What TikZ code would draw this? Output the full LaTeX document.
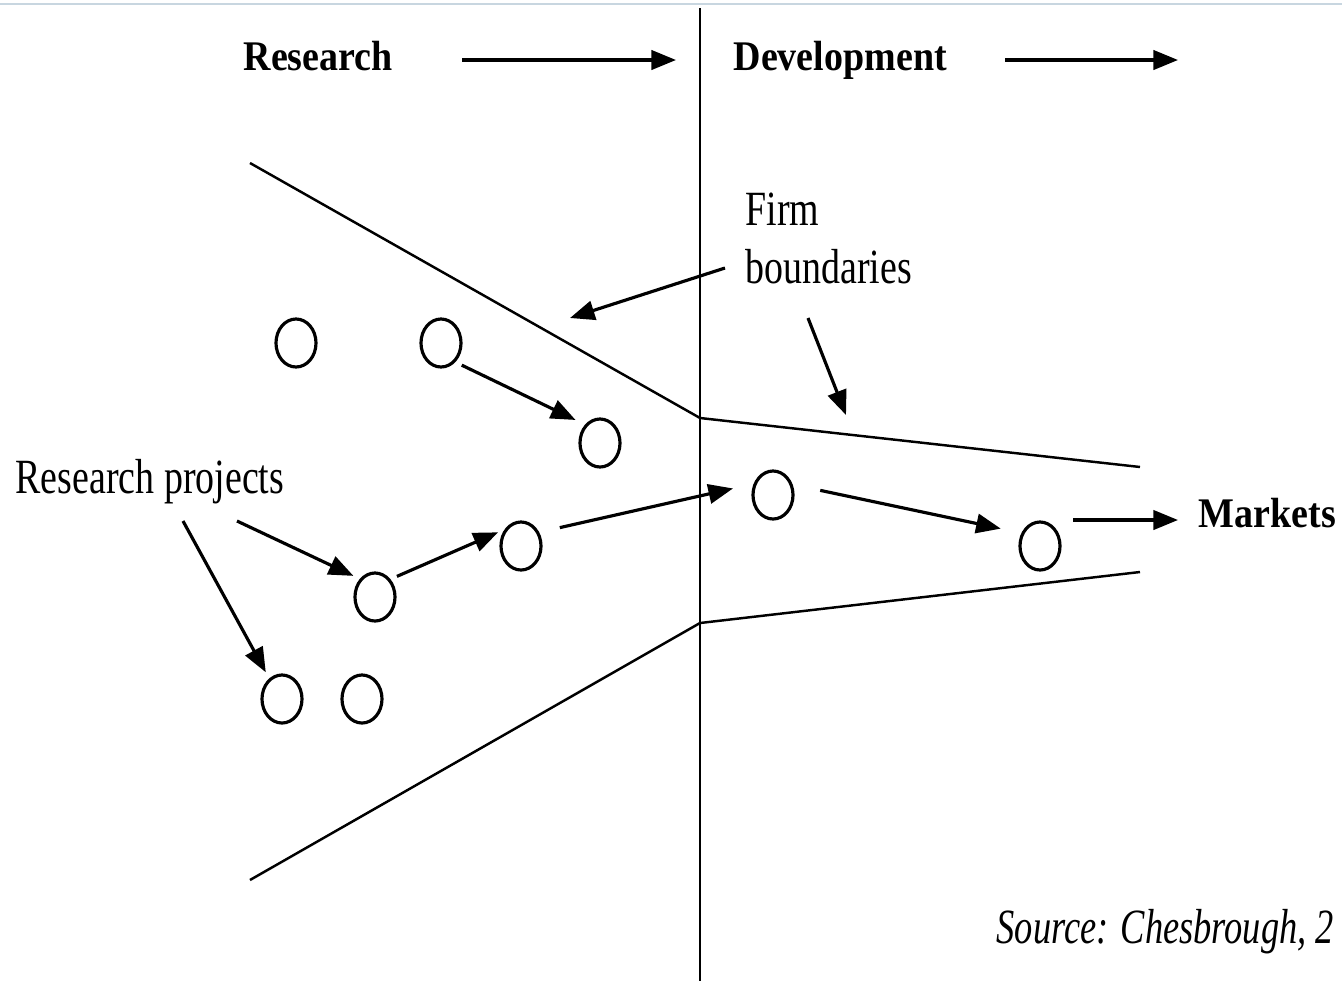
\documentclass[tikz,border=0pt]{standalone}
\usepackage{graphicx}
\usepackage{fontspec}
\setmainfont{Liberation Serif}
\usetikzlibrary{arrows.meta,shapes.geometric}
\definecolor{rimline}{RGB}{200,214,224}
\newcommand{\narrowtext}[2]{\scalebox{#1}[1]{#2}}
\begin{document}
\begin{tikzpicture}[x=0.01cm,y=-0.01cm,
        proj/.style={draw, ellipse, line width=0.9pt, minimum width=0.4cm, minimum height=0.48cm, inner sep=0pt},
        flow/.style={-{Triangle[length=7pt,width=5.5pt]}, line width=0.9pt},
        bound/.style={line width=0.7pt},
        head/.style={font=\fontsize{12}{14}\selectfont\bfseries, inner sep=0pt, anchor=base west},
        note/.style={font=\fontsize{14}{16}\selectfont, inner sep=0pt, anchor=base west}]
        \useasboundingbox (0,0) rectangle (1342,981);
        \draw[rimline, line width=0.6pt] (0,4) -- (1342,4);

        % research / development divide
        \coordinate (divtop) at (700,8);
        \coordinate (divbot) at (700,981);
        \draw[bound] (divtop) -- (divbot);

        \node[head] (research) at (243,70) {\narrowtext{0.9}{Research}};
        \node[head] (develop) at (733,70) {\narrowtext{0.9}{Development}};
        \coordinate (rstart) at (462,60);
        \coordinate (rend) at (676,60);
        \coordinate (dstart) at (1005,60);
        \coordinate (dend) at (1178,60);
        \draw[flow] (rstart) -- (rend);
        \draw[flow] (dstart) -- (dend);

        % firm boundaries
        \coordinate (ul) at (250,163);
        \coordinate (um) at (700,418);
        \coordinate (ur) at (1140,467);
        \coordinate (ll) at (250,880);
        \coordinate (lm) at (700,623);
        \coordinate (lr) at (1140,572);
        \draw[bound] (ul) -- (um) -- (ur);
        \draw[bound] (ll) -- (lm) -- (lr);

        % projects
        \foreach \n/\x/\y in {p1/296/343, p2/441/343, p3/600/443, p4/521/546, p5/375/597,
                              p6/282/699, p7/362/699, d1/773/495, d2/1040/546} {
            \node[proj] (\n) at (\x,\y) {};
        }
        \draw[flow, shorten <=2pt, shorten >=3pt] (p2.-53) -- (p3.129);
        \draw[flow, shorten <=2pt, shorten >=2pt] (p5.49) -- (p4.135);
        \draw[flow, shorten <=6pt, shorten >=6pt] (p4.37) -- (d1.150);
        \draw[flow, shorten <=8pt, shorten >=6pt] (d1.28) -- (d2.145);

        \node[head] (markets) at (1198,527) {\narrowtext{0.9}{Markets}};
        \coordinate (mstart) at (1073,520);
        \draw[flow, shorten >=0.2cm] (mstart) -- (mstart -| markets.west);

        % labels
        \node[note] (projects) at (15,493) {\narrowtext{0.77}{Research projects}};
        \coordinate (q1) at (237,521);
        \coordinate (q2) at (183,521);
        \draw[flow, shorten >=2pt] (q1) -- (p5.130);
        \draw[flow, shorten >=2pt] (q2) -- (p6.122);

        \node[note] (firm) at (745,225) {\narrowtext{0.77}{Firm}};
        \node[note] (bounds) at (745,283) {\narrowtext{0.77}{boundaries}};
        \coordinate (f1) at (725,268);
        \coordinate (f2) at (570,318);
        \coordinate (f3) at (808,318);
        \coordinate (f4) at (846,415);
        \draw[flow] (f1) -- (f2);
        \draw[flow] (f3) -- (f4);

        \node[note, font=\fontsize{14}{16}\selectfont\itshape] (source) at (996,943) {\narrowtext{0.74}{Source: Chesbrough, 2}};
\end{tikzpicture}
\end{document}
